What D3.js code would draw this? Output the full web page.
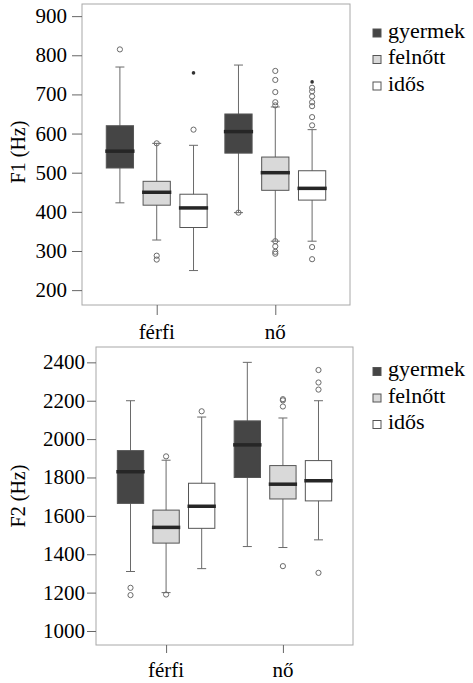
<!DOCTYPE html>
<html>
<head>
<meta charset="utf-8">
<script src="https://d3js.org/d3.v7.min.js"></script>
</head>
<body style="margin:0;background:#fff">
<svg id="chart" width="473" height="683"></svg>
<script>
var groups = ["férfi", "nő"];
var ages = ["gyermek", "felnőtt", "idős"];
var ageFill = ["#454545", "#d9d9d9", "#ffffff"];

// [lower whisker, q1, median, q3, upper whisker], order: férfi x3, nő x3
var f1Stats = [
  [423, 512, 555, 620, 770],
  [328, 417, 450, 478, 575],
  [250, 360, 410, 445, 570],
  [398, 550, 605, 650, 775],
  [325, 455, 500, 540, 668],
  [325, 430, 460, 505, 610]
];
var f1Outliers = [
  [815],
  [575, 288, 278],
  [610],
  [398],
  [760, 737, 706, 680, 672, 325, 312, 298, 293],
  [717, 708, 695, 680, 670, 642, 621, 310, 279]
];
var f1Extremes = [[], [], [755], [], [], [732]];
var f1Ticks = [200, 300, 400, 500, 600, 700, 800, 900];

var f2Stats = [
  [1310, 1665, 1830, 1940, 2200],
  [1200, 1458, 1540, 1630, 1890],
  [1325, 1535, 1650, 1770, 2115],
  [1440, 1800, 1970, 2095, 2400],
  [1435, 1688, 1765, 1862, 2110],
  [1475, 1678, 1783, 1888, 2200]
];
var f2Outliers = [
  [1225, 1187],
  [1910, 1190],
  [2145],
  [],
  [2208, 2202, 2170, 1338],
  [2360, 2295, 2258, 1303]
];
var f2Extremes = [[], [], [], [], [], []];
var f2Ticks = [1000, 1200, 1400, 1600, 1800, 2000, 2200, 2400];

var svg = d3.select("#chart");
var textLayer = [];   // all labels go straight onto the svg root at the end

function label(x, y, str, size, anchor, rot) {
  textLayer.push({ x: x, y: y, s: str, size: size, anchor: anchor || "start", rot: rot });
}

function panel(opt) {
  var g = svg.append("g");
  var x = d3.scalePoint().domain(groups).range([opt.left, opt.right]).padding(opt.pad);
  var sub = d3.scaleBand().domain(ages).range([-opt.spread, opt.spread]).padding(0.26);
  var y = d3.scaleLinear().domain(opt.domain).range([opt.bottom, opt.top]);

  g.append("rect")
    .attr("x", opt.left).attr("y", opt.top)
    .attr("width", opt.right - opt.left).attr("height", opt.bottom - opt.top)
    .attr("fill", "none").attr("stroke", "#a8a8a8").attr("stroke-width", 1);

  // y axis (ticks from d3, labels put on root layer)
  var ya = g.append("g").attr("transform", "translate(" + opt.left + ",0)")
    .call(d3.axisLeft(y).tickValues(opt.ticks).tickSize(opt.yTick).tickFormat(d3.format("d")));
  ya.select(".domain").remove();
  ya.selectAll("line").attr("stroke", "#666");
  ya.selectAll("text").remove();
  opt.ticks.forEach(function (t) {
    label(opt.left - opt.yTick - opt.yPad, y(t) + 7, d3.format("d")(t), 21, "end");
  });

  // x axis
  var xa = g.append("g").attr("transform", "translate(0," + opt.bottom + ")")
    .call(d3.axisBottom(x).tickSize(opt.xTick));
  xa.select(".domain").remove();
  xa.selectAll("line").attr("stroke", "#666");
  xa.selectAll("text").remove();
  groups.forEach(function (gr) {
    label(x(gr), opt.bottom + opt.xTick + 24, gr, 21, "middle");
  });

  label(25, opt.titleY, opt.title, 20, "middle", true);

  var bw = sub.bandwidth();
  var items = [];
  groups.forEach(function (gr, gi) {
    ages.forEach(function (a, ai) {
      var k = gi * 3 + ai;
      items.push({ cx: x(gr) + sub(a) + bw / 2, s: opt.stats[k], o: opt.outliers[k], e: opt.extremes[k], fill: ageFill[ai] });
    });
  });

  var box = g.selectAll(".bx").data(items).enter().append("g");
  box.append("line")
    .attr("x1", function (d) { return d.cx; }).attr("x2", function (d) { return d.cx; })
    .attr("y1", function (d) { return y(d.s[0]); }).attr("y2", function (d) { return y(d.s[4]); })
    .attr("stroke", "#6a6a6a").attr("stroke-width", 1);
  [0, 4].forEach(function (i) {
    box.append("line")
      .attr("x1", function (d) { return d.cx - 4.5; }).attr("x2", function (d) { return d.cx + 4.5; })
      .attr("y1", function (d) { return y(d.s[i]); }).attr("y2", function (d) { return y(d.s[i]); })
      .attr("stroke", "#6a6a6a").attr("stroke-width", 1);
  });
  box.append("rect")
    .attr("x", function (d) { return d.cx - bw / 2; })
    .attr("y", function (d) { return y(d.s[3]); })
    .attr("width", bw)
    .attr("height", function (d) { return y(d.s[1]) - y(d.s[3]); })
    .attr("fill", function (d) { return d.fill; })
    .attr("stroke", "#555").attr("stroke-width", 1);
  box.append("line")
    .attr("x1", function (d) { return d.cx - bw / 2 - 1; }).attr("x2", function (d) { return d.cx + bw / 2 + 1; })
    .attr("y1", function (d) { return y(d.s[2]); }).attr("y2", function (d) { return y(d.s[2]); })
    .attr("stroke", "#262626").attr("stroke-width", 3.5);

  box.each(function (d) {
    var b = d3.select(this);
    b.selectAll(".o").data(d.o).enter().append("circle")
      .attr("cx", d.cx).attr("cy", function (v) { return y(v); }).attr("r", 2.6)
      .attr("fill", "none").attr("stroke", "#6a6a6a").attr("stroke-width", 1);
    b.selectAll(".e").data(d.e).enter().append("circle")
      .attr("cx", d.cx).attr("cy", function (v) { return y(v); }).attr("r", 1.8)
      .attr("fill", "#333");
  });

  ages.forEach(function (a, i) {
    var by = opt.legendY + i * 26.5;
    g.append("rect").attr("x", 373).attr("y", by - 8.5).attr("width", 8).attr("height", 8)
      .attr("fill", ageFill[i]).attr("stroke", "#555").attr("stroke-width", 1);
    label(388, by, a, 22);
  });
}

panel({
  left: 82, right: 350, top: 4, bottom: 305, pad: 0.63, spread: 60,
  yTick: 10, yPad: 5, xTick: 10, titleY: 152,
  domain: [162, 931], ticks: f1Ticks, stats: f1Stats, outliers: f1Outliers, extremes: f1Extremes,
  title: "F1 (Hz)", legendY: 37.5
});
panel({
  left: 96, right: 353, top: 347, bottom: 645, pad: 0.6, spread: 58,
  yTick: 9, yPad: 2, xTick: 8, titleY: 496,
  domain: [927, 2480], ticks: f2Ticks, stats: f2Stats, outliers: f2Outliers, extremes: f2Extremes,
  title: "F2 (Hz)", legendY: 376
});

textLayer.forEach(function (t) {
  var el = svg.append("text")
    .attr("font-family", "Liberation Serif")
    .attr("font-size", t.size)
    .attr("text-anchor", t.anchor)
    .text(t.s);
  if (t.rot) {
    el.attr("transform", "translate(" + t.x + "," + t.y + ") rotate(-90)");
  } else {
    el.attr("x", t.x).attr("y", t.y);
  }
});
</script>
</body>
</html>
